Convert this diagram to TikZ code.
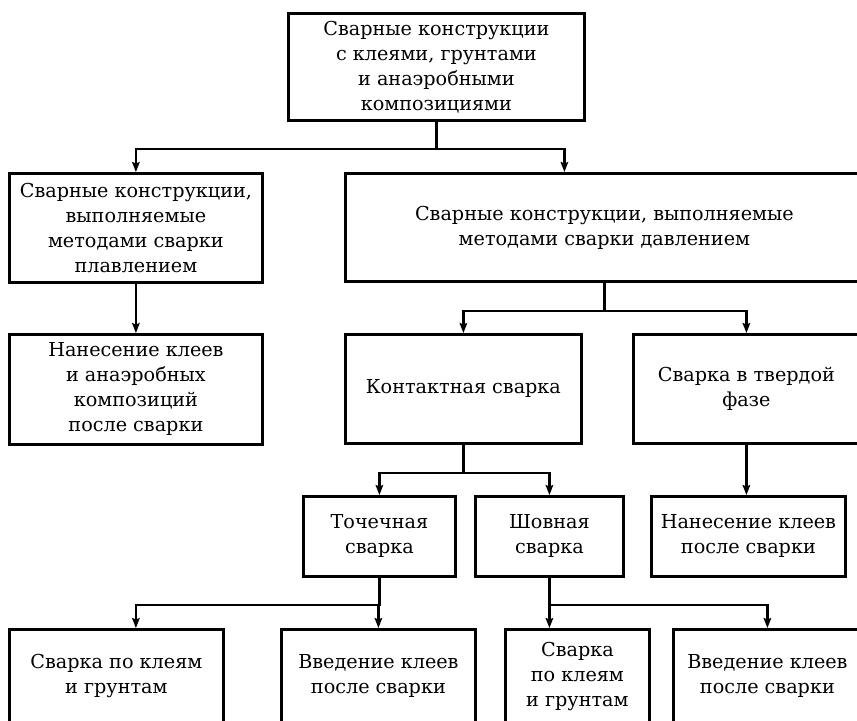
\documentclass[tikz,border=0pt]{standalone}
\usepackage{fontspec}
\setmainfont{DejaVu Serif}
\usepackage{tikz}
\usetikzlibrary{arrows.meta}

\begin{document}
\begin{tikzpicture}[
  x=0.5pt, y=-0.5pt,
  font=\fontsize{9.6}{12.5}\selectfont,
  >={Stealth[length=5pt,width=3.8pt,inset=0.8pt]},
  block/.style={draw=black, line width=1.4pt, fill=white, inner sep=0pt,
                align=center, anchor=north west},
  flow/.style={->, line width=1.15pt, black}]

%% Геометрия в пикселях исходной схемы: 1px = 0.5pt, ось y вниз.
%% Правые и нижние блоки выходят за кадр, их режет \clip.
\useasboundingbox (0,0) rectangle (857,720);
\clip (0,0) rectangle (857,720);

%% ---- уровень 1 ----
\node[block, minimum width=148pt, minimum height=53.5pt] (top) at (287,12)
  {Сварные конструкции\\ с клеями, грунтами\\ и анаэробными\\ композициями};

%% ---- уровень 2 ----
\node[block, minimum width=126.5pt, minimum height=54.5pt] (fus) at (8,172)
  {Сварные конструкции,\\ выполняемые\\ методами сварки\\ плавлением};

\node[block, minimum width=259pt, minimum height=54pt] (press) at (344,172)
  {Сварные конструкции, выполняемые\\ методами сварки давлением};

%% ---- уровень 3 ----
\node[block, minimum width=126.5pt, minimum height=55pt] (coat) at (8,333)
  {Нанесение клеев\\ и анаэробных\\ композиций\\ после сварки};

\node[block, minimum width=118pt, minimum height=54.5pt] (contact) at (344,333)
  {Контактная сварка};

\node[block, minimum width=113pt, minimum height=54.5pt] (solid) at (632,333)
  {Сварка в твердой\\ фазе};

%% ---- уровень 4 ----
\node[block, minimum width=76pt, minimum height=40pt] (spot) at (302,495)
  {Точечная\\ сварка};

\node[block, minimum width=74pt, minimum height=40pt] (seam) at (474,495)
  {Шовная\\ сварка};

\node[block, minimum width=97pt, minimum height=40pt] (coattwo) at (650,495)
  {Нанесение клеев\\ после сварки};

%% ---- уровень 5 (обрезан снизу) ----
\node[block, minimum width=107pt, minimum height=47pt] (glue) at (8,628)
  {Сварка по клеям\\ и грунтам};

\node[block, minimum width=97pt, minimum height=47pt] (introa) at (280,628)
  {Введение клеев\\ после сварки};

\node[block, minimum width=72pt, minimum height=47pt] (gluetwo) at (504,628)
  {Сварка\\ по клеям\\ и грунтам};

\node[block, minimum width=94pt, minimum height=47pt] (introb) at (672,628)
  {Введение клеев\\ после сварки};

%% ---- связи ----
% от корня: вилка, правая стрелка смещена влево от середины блока
\draw[flow] (top.south) -- ++(0,27) coordinate (topfork) -| (fus.north);
\draw[flow] (topfork) -| ([xshift=-20pt]press.north);

\draw[flow] (fus.south) -- (coat.north);

\draw[flow] (press.south) -- ++(0,28) coordinate (pressfork) -| (contact.north);
\draw[flow] (pressfork) -| (solid.north);

\draw[flow] (contact.south) -- ++(0,28) coordinate (contactfork) -| (spot.north);
\draw[flow] (contactfork) -| (seam.north);

\draw[flow] (solid.south) -- (solid.south |- coattwo.north);

% нижний ярус: стрелки идут по осям колонок выше
\draw[flow] (spot.south) -- ++(0,27) coordinate (spotfork) -| (glue.north -| coat.south);
\draw[flow] (spotfork) -| (introa.north);

\draw[flow] (seam.south) -- ++(0,27) coordinate (seamfork) -| (gluetwo.north -| seam.south);
\draw[flow] (seamfork) -| (introb.north);
\end{tikzpicture}
\end{document}
